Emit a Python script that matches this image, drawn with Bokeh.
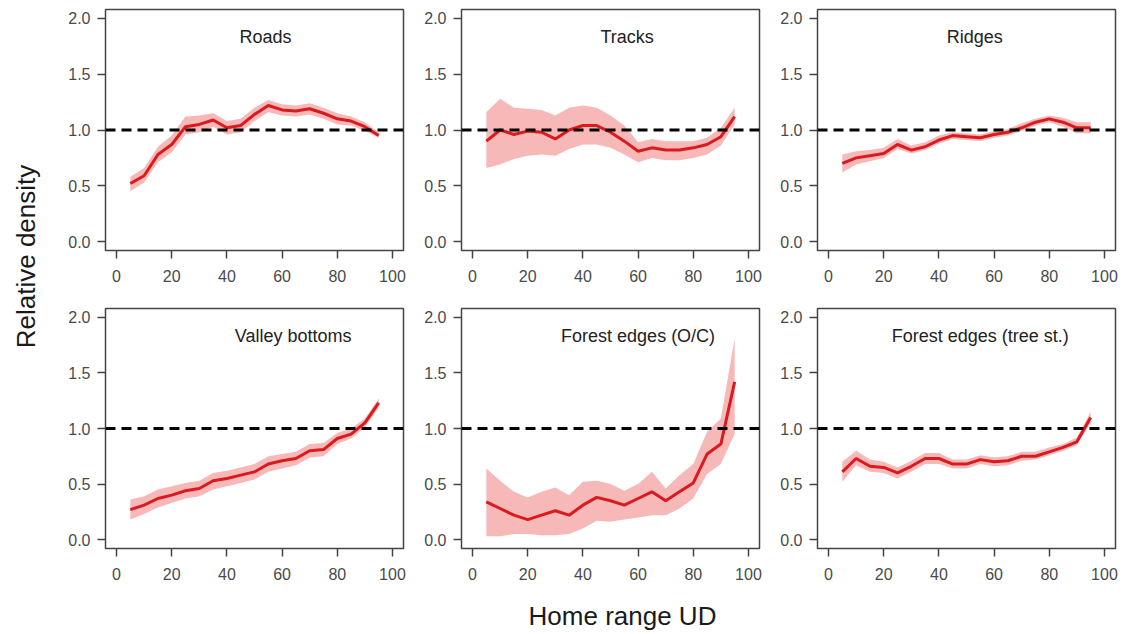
import math
from bokeh.plotting import figure
from bokeh.models import Range1d, Span, Label, FixedTicker, PrintfTickFormatter
from bokeh.layouts import row, column
from bokeh.embed import file_html
from bokeh.resources import INLINE

# ---------------- data ----------------
ud = [5, 10, 15, 20, 25, 30, 35, 40, 45, 50, 55, 60, 65, 70, 75, 80, 85, 90, 95]

titles = ["Roads", "Tracks", "Ridges", "Valley bottoms",
          "Forest edges (O/C)", "Forest edges (tree st.)"]

roads_mean = [0.52, 0.59, 0.78, 0.87, 1.03, 1.05, 1.09, 1.02, 1.04, 1.14, 1.22, 1.18, 1.17, 1.19, 1.15, 1.10, 1.08, 1.03, 0.95]
roads_low = [0.45, 0.53, 0.71, 0.80, 0.96, 0.98, 1.03, 0.96, 0.98, 1.08, 1.16, 1.13, 1.12, 1.14, 1.10, 1.05, 1.04, 0.99, 0.93]
roads_up = [0.58, 0.66, 0.85, 0.95, 1.12, 1.13, 1.15, 1.08, 1.10, 1.20, 1.27, 1.23, 1.22, 1.24, 1.20, 1.15, 1.12, 1.07, 0.98]

tracks_mean = [0.90, 1.00, 0.96, 0.99, 0.98, 0.92, 1.00, 1.04, 1.04, 0.98, 0.90, 0.81, 0.84, 0.82, 0.82, 0.84, 0.87, 0.94, 1.12]
tracks_low = [0.66, 0.69, 0.74, 0.77, 0.78, 0.77, 0.83, 0.87, 0.87, 0.84, 0.78, 0.71, 0.75, 0.73, 0.73, 0.75, 0.78, 0.86, 1.05]
tracks_up = [1.16, 1.28, 1.20, 1.19, 1.18, 1.13, 1.20, 1.22, 1.20, 1.13, 1.04, 0.89, 0.92, 0.90, 0.90, 0.90, 0.93, 1.02, 1.20]

ridges_mean = [0.70, 0.75, 0.77, 0.79, 0.87, 0.82, 0.85, 0.91, 0.95, 0.94, 0.93, 0.96, 0.98, 1.02, 1.07, 1.10, 1.07, 1.02, 1.02]
ridges_low = [0.62, 0.69, 0.72, 0.75, 0.83, 0.79, 0.82, 0.88, 0.92, 0.91, 0.90, 0.93, 0.95, 0.99, 1.04, 1.07, 1.03, 0.97, 0.97]
ridges_up = [0.78, 0.81, 0.82, 0.84, 0.92, 0.86, 0.89, 0.95, 0.98, 0.97, 0.96, 0.99, 1.01, 1.06, 1.10, 1.13, 1.11, 1.07, 1.07]

valley_mean = [0.27, 0.31, 0.37, 0.40, 0.44, 0.46, 0.53, 0.55, 0.58, 0.61, 0.68, 0.71, 0.73, 0.80, 0.81, 0.91, 0.95, 1.05, 1.23]
valley_low = [0.18, 0.23, 0.29, 0.33, 0.37, 0.39, 0.45, 0.48, 0.51, 0.54, 0.61, 0.64, 0.67, 0.74, 0.75, 0.86, 0.91, 1.01, 1.19]
valley_up = [0.36, 0.39, 0.45, 0.48, 0.51, 0.53, 0.60, 0.62, 0.65, 0.68, 0.75, 0.77, 0.79, 0.86, 0.87, 0.96, 1.00, 1.09, 1.27]

feoc_mean = [0.34, 0.28, 0.22, 0.18, 0.22, 0.26, 0.22, 0.31, 0.38, 0.35, 0.31, 0.37, 0.43, 0.35, 0.43, 0.51, 0.77, 0.86, 1.42]
feoc_low = [0.03, 0.03, 0.05, 0.05, 0.04, 0.04, 0.05, 0.10, 0.17, 0.16, 0.18, 0.20, 0.22, 0.22, 0.28, 0.37, 0.59, 0.68, 0.95]
feoc_up = [0.64, 0.53, 0.43, 0.38, 0.43, 0.47, 0.40, 0.52, 0.53, 0.50, 0.44, 0.50, 0.61, 0.46, 0.58, 0.68, 0.97, 1.09, 1.81]

fets_mean = [0.61, 0.73, 0.66, 0.65, 0.60, 0.66, 0.73, 0.73, 0.68, 0.68, 0.72, 0.70, 0.71, 0.75, 0.75, 0.79, 0.83, 0.88, 1.10]
fets_low = [0.52, 0.67, 0.61, 0.60, 0.55, 0.61, 0.68, 0.68, 0.64, 0.64, 0.68, 0.66, 0.67, 0.71, 0.72, 0.76, 0.80, 0.85, 1.05]
fets_up = [0.70, 0.80, 0.72, 0.70, 0.65, 0.71, 0.78, 0.78, 0.72, 0.72, 0.76, 0.74, 0.75, 0.79, 0.79, 0.83, 0.86, 0.92, 1.15]

x_ticks = [0, 20, 40, 60, 80, 100]
y_ticks = [0.0, 0.5, 1.0, 1.5, 2.0]
reference_level = 1.0

x_label = "Home range UD"
y_label = "Relative density"

series = [
    (roads_mean, roads_low, roads_up),
    (tracks_mean, tracks_low, tracks_up),
    (ridges_mean, ridges_low, ridges_up),
    (valley_mean, valley_low, valley_up),
    (feoc_mean, feoc_low, feoc_up),
    (fets_mean, fets_low, fets_up),
]

# ---------------- style ----------------
FONT = "Liberation Sans"
title_x = [54, 56, 53, 64, 60, 55]
LINE_COLOR = "#d91a1f"
BAND_COLOR = "#f7b8b8"
FRAME_COLOR = "#444444"
TICK_LABEL_COLOR = "#4a4a4a"

PANEL_W = 356
TOP_H = 307
BOT_H = 288
XL_H = 37
LAB_W = 50


def make_panel(i, top):
    mean, low, up = series[i]
    p = figure(width=PANEL_W, height=TOP_H if top else BOT_H,
               x_range=Range1d(-4, 104), y_range=Range1d(-0.08, 2.08),
               output_backend="svg", toolbar_location=None,
               min_border_left=55, min_border_right=3,
               min_border_top=9 if top else 1,
               min_border_bottom=57 if top else 47)
    p.xgrid.visible = False
    p.ygrid.visible = False
    p.background_fill_color = "white"
    p.border_fill_color = "white"
    p.outline_line_color = FRAME_COLOR
    p.outline_line_width = 1.5

    p.varea(x=ud, y1=low, y2=up, fill_color=BAND_COLOR, fill_alpha=1.0)
    p.add_layout(Span(location=reference_level, dimension="width",
                      line_color="black", line_width=3, line_dash="10 6"))
    p.line(x=ud, y=mean, line_color=LINE_COLOR, line_width=3)

    p.add_layout(Label(x=title_x[i], y=1.83, text=titles[i],
                       text_align="center", text_baseline="middle",
                       text_font=FONT, text_font_size="18px", text_color="#222222"))

    for ax, ticks in ((p.xaxis[0], x_ticks), (p.yaxis[0], y_ticks)):
        ax.ticker = FixedTicker(ticks=ticks)
        ax.minor_tick_line_color = None
        ax.axis_line_color = None
        ax.major_tick_line_color = FRAME_COLOR
        ax.major_tick_line_width = 1.5
        ax.major_tick_out = 8
        ax.major_tick_in = 0
        ax.major_label_text_font = FONT
        ax.major_label_text_font_size = "16px"
        ax.major_label_text_color = TICK_LABEL_COLOR
    p.xaxis[0].major_label_standoff = 11
    p.yaxis[0].major_label_standoff = 7
    p.yaxis[0].formatter = PrintfTickFormatter(format="%.1f")
    p.yaxis[0].major_label_orientation = "horizontal"
    return p


panels = [make_panel(i, i < 3) for i in range(6)]

# y-axis label column
TOTAL_H = TOP_H + BOT_H + XL_H
ylab = figure(width=LAB_W, height=TOTAL_H, x_range=Range1d(0, LAB_W),
              y_range=Range1d(0, TOTAL_H), output_backend="svg",
              toolbar_location=None, min_border=0)
ylab.axis.visible = False
ylab.grid.visible = False
ylab.outline_line_color = None
ylab.add_layout(Label(x=25, y=TOTAL_H - 256, text=y_label, angle=math.pi / 2,
                      text_align="center", text_baseline="middle",
                      text_font=FONT, text_font_size="26px", text_color="#1a1a1a"))

# x-axis label row
XL_W = 3 * PANEL_W
xlab = figure(width=XL_W, height=XL_H, x_range=Range1d(0, XL_W),
              y_range=Range1d(0, XL_H), output_backend="svg",
              toolbar_location=None, min_border=0)
xlab.axis.visible = False
xlab.grid.visible = False
xlab.outline_line_color = None
xlab.add_layout(Label(x=572, y=XL_H - 20, text=x_label,
                      text_align="center", text_baseline="middle",
                      text_font=FONT, text_font_size="26px", text_color="#1a1a1a"))

layout = row(ylab, column(row(*panels[:3]), row(*panels[3:]), xlab))

open("out.html", "w").write(file_html(layout, INLINE))
